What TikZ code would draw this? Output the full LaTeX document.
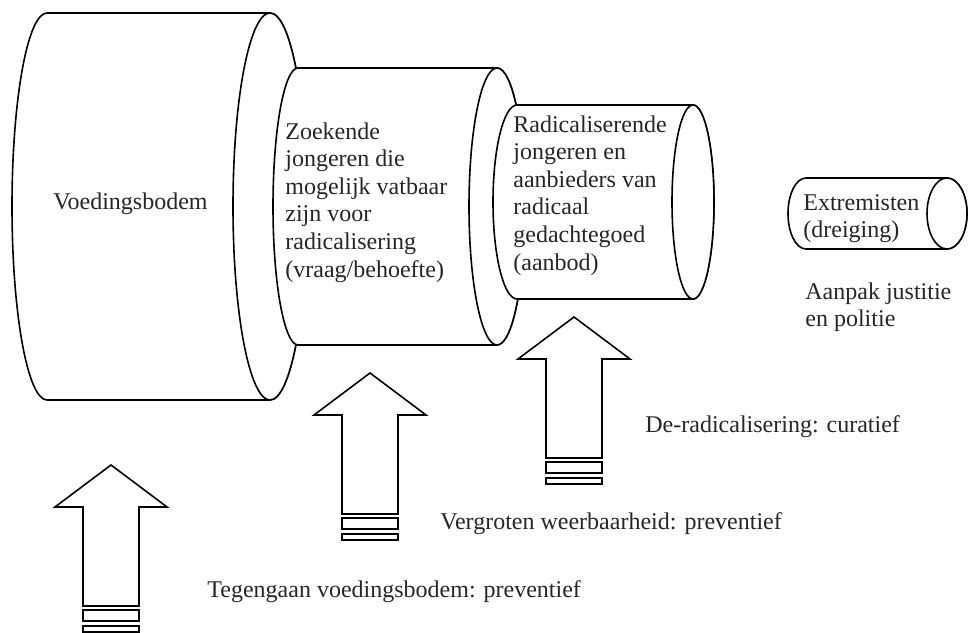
\documentclass[tikz,border=0pt]{standalone}
\usepackage{fontspec}
\setmainfont{Liberation Serif}
\usetikzlibrary{positioning}

\begin{document}
\begin{tikzpicture}[
      x=0.5pt, y=0.5pt,
      tube/.style={
        draw=black,
        fill=white,
        line width=0.8pt
      },
      blockarrow/.style={
        draw=black,
        fill=white,
        line width=0.8pt,
        line join=miter
      },
      stripe/.style={
        draw=black,
        fill=white,
        line width=0.8pt
      },
      lbl/.style={
        font=\fontsize{12}{13.8}\selectfont,
        inner sep=0pt,
        align=left,
        text=black!85
      }
    ]
    \useasboundingbox (0,0) rectangle (969,632);

    % Cylinders (back to front)
    \draw[tube] (47,619) -- (270,619) arc[start angle=90, end angle=-90, x radius=37, y radius=193.5]
      -- (47,232) arc[start angle=270, end angle=90, x radius=35, y radius=193.5] -- cycle;
    \draw[tube] (270,425.5) ellipse[x radius=37, y radius=193.5];

    \draw[tube] (298,564) -- (497,564) arc[start angle=90, end angle=-90, x radius=28, y radius=138.5]
      -- (298,287) arc[start angle=270, end angle=90, x radius=25, y radius=138.5] -- cycle;
    \draw[tube] (497,425.5) ellipse[x radius=28, y radius=138.5];

    \draw[tube] (517,527) -- (693,527) arc[start angle=90, end angle=-90, x radius=21, y radius=97]
      -- (517,333) arc[start angle=270, end angle=90, x radius=24, y radius=97] -- cycle;
    \draw[tube] (693,430) ellipse[x radius=21, y radius=97];

    \draw[tube] (806,454) -- (947,454) arc[start angle=90, end angle=-90, x radius=20, y radius=35.5]
      -- (806,383) arc[start angle=270, end angle=90, x radius=18, y radius=35.5] -- cycle;
    \draw[tube] (947,418.5) ellipse[x radius=20, y radius=35.5];

    % Cylinder texts
    \node[lbl, anchor=base west] (bodem) at (53,422) {Voedingsbodem};
    \node[lbl, anchor=north west] (vraag) at (285,510)
      {Zoekende\\jongeren die\\mogelijk vatbaar\\zijn voor\\radicalisering\\(vraag/behoefte)};
    \node[lbl, anchor=north west] (aanbod) at (513,517)
      {Radicaliserende\\jongeren en\\aanbieders van\\radicaal\\gedachtegoed\\(aanbod)};
    \node[lbl, anchor=north west] (dreiging) at (803,438) {Extremisten\\(dreiging)};
    \node[lbl, anchor=north west] (justitie) at (805,350) {Aanpak justitie\\en politie};

    % Block arrows with stripes
    \foreach \ax/\ay in {111/167, 370/259, 574/315} {
      \draw[blockarrow] (\ax,\ay) -- ++(56,-42) -- ++(-28,0) -- ++(0,-99) -- ++(-56,0)
        -- ++(0,99) -- ++(-28,0) -- cycle;
      \draw[stripe] (\ax-28,\ay-145) rectangle (\ax+28,\ay-156);
      \draw[stripe] (\ax-28,\ay-161) rectangle (\ax+28,\ay-167);
    }

    % Arrow texts
    \node[lbl, anchor=base west] (curatief) at (645,199) {De-radicalisering: curatief};
    \node[lbl, anchor=base west] (weerbaar) at (440,103) {Vergroten weerbaarheid: preventief};
    \node[lbl, anchor=base west] (tegengaan) at (207,35) {Tegengaan voedingsbodem: preventief};

  \end{tikzpicture}
\end{document}
